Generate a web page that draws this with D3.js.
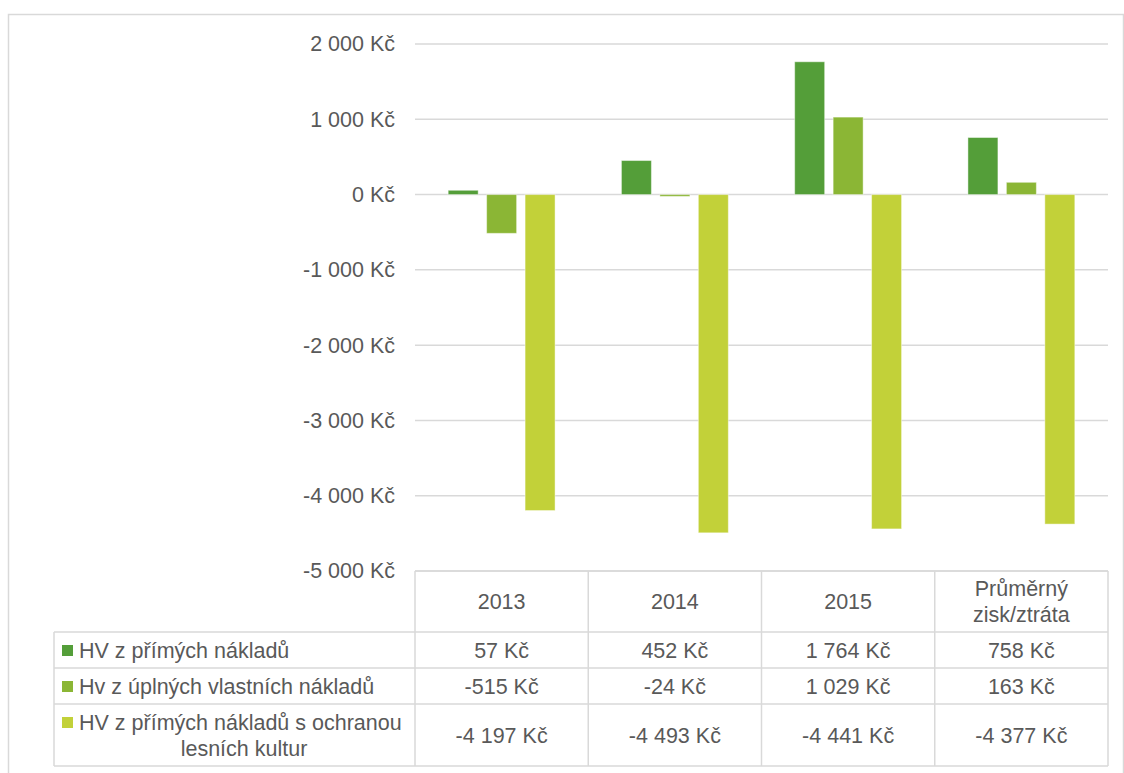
<!DOCTYPE html>
<html>
<head>
<meta charset="utf-8">
<script src="https://cdn.jsdelivr.net/npm/d3@7"></script>
<style>
  body { margin: 0; background: #fff; }
</style>
</head>
<body>
<div id="chart"></div>
<script>
// Data
var categories = ["2013", "2014", "2015", "Průměrný zisk/ztráta"];
var seriesNames = [
    "HV z přímých nákladů",
    "Hv z úplných vlastních nákladů",
    "HV z přímých nákladů s ochranou lesních kultur"
];
var hvPrime = [57, 452, 1764, 758];
var hvUplne = [-515, -24, 1029, 163];
var hvOchrana = [-4197, -4493, -4441, -4377];
var yTicks = [2000, 1000, 0, -1000, -2000, -3000, -4000, -5000];

var seriesValues = [hvPrime, hvUplne, hvOchrana];
var colors = ["#549E39", "#8BB635", "#C2D139"];

var FONT = "'Liberation Sans', Arial, sans-serif";
var FS = "21.5px";

// Dimensions
var W = 1124, H = 773;
var plotLeft = 415, plotRight = 1108, plotTop = 44, plotBottom = 571;

var svg = d3.select("#chart")
    .append("svg")
        .attr("width", W)
        .attr("height", H)
        .style("font-family", FONT);

// Outer chart border
svg.append("rect")
    .attr("x", 8.5).attr("y", 14.5)
    .attr("width", 1115).attr("height", 780)
    .attr("fill", "none")
    .attr("stroke", "#D9D9D9")
    .attr("stroke-width", 1.5);

// Czech number format: "2 000 Kč"
var cz = d3.formatLocale({
    decimal: ",", thousands: "\u00a0", grouping: [3],
    currency: ["", "\u00a0Kč"], minus: "-"
});
var fmt = cz.format("$,.0f");

// Scales
var x0 = d3.scaleBand()
    .domain(categories)
    .range([plotLeft, plotRight])
    .paddingInner(0.383)
    .paddingOuter(0.1915);

var x1 = d3.scaleBand()
    .domain(d3.range(seriesNames.length))
    .range([0, x0.bandwidth()])
    .paddingInner(0.22)
    .paddingOuter(0);

var y = d3.scaleLinear()
    .domain([-5000, 2000])
    .range([plotBottom, plotTop]);

function addText(x, yy, t, anchor) {
    return svg.append("text")
        .attr("x", x)
        .attr("y", yy)
        .attr("dy", "0.35em")
        .attr("text-anchor", anchor || "middle")
        .style("font-family", FONT)
        .style("font-size", FS)
        .style("fill", "#595959")
        .text(t);
}

// Gridlines
svg.append("g")
    .selectAll("line")
    .data(yTicks)
    .enter().append("line")
    .attr("x1", plotLeft).attr("x2", plotRight)
    .attr("y1", d => y(d)).attr("y2", d => y(d))
    .attr("stroke", "#D9D9D9")
    .attr("stroke-width", 1.5);

// Y axis labels
svg.append("g")
    .attr("transform", "translate(" + (plotLeft - 20) + ",0)")
    .call(d3.axisLeft(y).tickValues(yTicks).tickFormat(fmt).tickSize(0).tickPadding(0))
    .attr("font-family", null)
    .attr("font-size", null)
    .call(g => g.select(".domain").remove())
    .selectAll("text")
        .style("font-size", FS)
        .style("font-family", FONT)
        .style("fill", "#595959");

// Bars
var groups = svg.append("g")
    .selectAll("g")
    .data(seriesValues)
    .enter().append("g")
    .attr("fill", (d, i) => colors[i]);

groups.selectAll("rect")
    .data((vals, si) => vals.map((v, ci) => ({s: si, c: categories[ci], v: v})))
    .enter().append("rect")
    .attr("x", d => x0(d.c) + x1(d.s))
    .attr("width", x1.bandwidth())
    .attr("y", d => y(Math.max(0, d.v)))
    .attr("height", d => Math.abs(y(d.v) - y(0)))
    .attr("stroke", "rgba(255,255,255,0.45)")
    .attr("stroke-width", 1);

// Data table
var colEdges = d3.range(categories.length + 1).map(i => plotLeft + i * x0.step());
var legendLeft = 54;
var headerTop = plotBottom, headerBottom = 632;
var rowEdges = [632, 668, 704, 766];

var table = svg.append("g")
    .attr("stroke", "#D9D9D9")
    .attr("stroke-width", 1.5);

// horizontal lines
table.append("line").attr("x1", plotLeft).attr("x2", plotRight).attr("y1", headerTop).attr("y2", headerTop);
rowEdges.forEach(function(ry) {
    table.append("line").attr("x1", legendLeft).attr("x2", plotRight).attr("y1", ry).attr("y2", ry);
});
// vertical lines
colEdges.forEach(function(cx) {
    table.append("line").attr("x1", cx).attr("x2", cx).attr("y1", headerTop).attr("y2", rowEdges[3]);
});
table.append("line").attr("x1", legendLeft).attr("x2", legendLeft).attr("y1", rowEdges[0]).attr("y2", rowEdges[3]);

// header texts
var headerLines = [["2013"], ["2014"], ["2015"], ["Průměrný", "zisk/ztráta"]];
categories.forEach(function(c, ci) {
    var cx = x0(c) + x0.bandwidth() / 2;
    var lines = headerLines[ci];
    var cy = (headerTop + headerBottom) / 2;
    lines.forEach(function(t, li) {
        addText(cx, cy + (li - (lines.length - 1) / 2) * 26, t);
    });
});

// value cells
seriesValues.forEach(function(vals, si) {
    var cy = (rowEdges[si] + rowEdges[si + 1]) / 2;
    vals.forEach(function(v, ci) {
        addText(x0(categories[ci]) + x0.bandwidth() / 2, cy, fmt(v));
    });
});

// legend cells
var legendLines = [
    ["HV z přímých nákladů"],
    ["Hv z úplných vlastních nákladů"],
    ["HV z přímých nákladů s ochranou", "lesních kultur"]
];
seriesNames.forEach(function(name, si) {
    var top = rowEdges[si], bottom = rowEdges[si + 1];
    var lines = legendLines[si];
    var firstY = lines.length > 1 ? top + 18 : (top + bottom) / 2;
    svg.append("rect")
        .attr("x", 62).attr("y", firstY - 5)
        .attr("width", 11).attr("height", 11)
        .attr("fill", colors[si]);
    lines.forEach(function(t, li) {
        addText(li === 0 ? 79 : 244, firstY + li * 26, t, li === 0 ? "start" : "middle");
    });
});
</script>
</body>
</html>
